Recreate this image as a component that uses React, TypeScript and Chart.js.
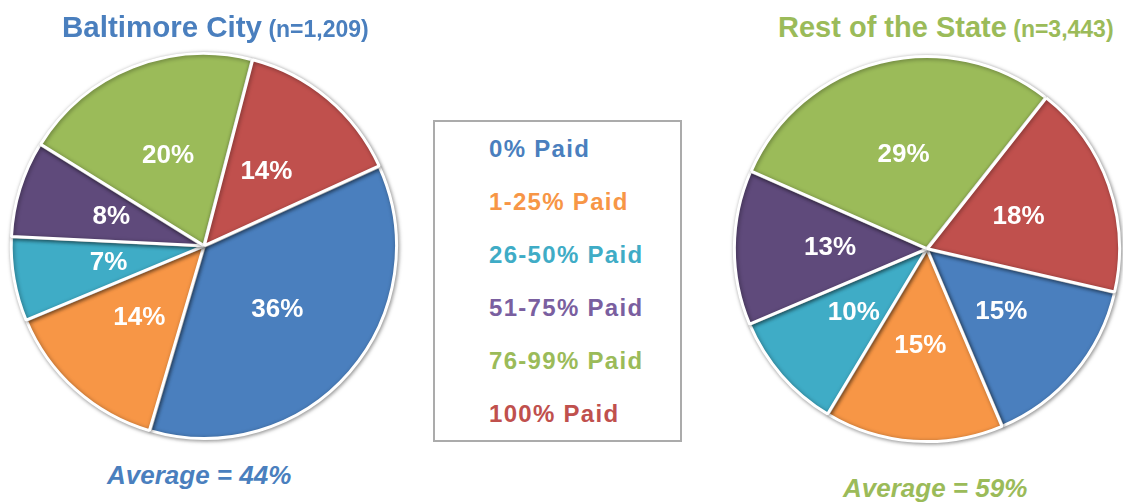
import React, { useEffect, useRef } from "react";
import { Chart, registerables } from "chart.js";

Chart.register(...registerables);

const categories = ["0% Paid", "1-25% Paid", "26-50% Paid", "51-75% Paid", "76-99% Paid", "100% Paid"];
const baltimoreValues = [36, 14, 7, 8, 20, 14];
const restValues = [15, 15, 10, 13, 29, 18];
const sliceColors = ["#4A7FBE", "#F79646", "#3FACC6", "#5F4A7B", "#9BBB59", "#C0504D"];
const legendColors = ["#4A7FBE", "#F79646", "#3FACC6", "#7A5FA0", "#9BBB59", "#C0504D"];

const FONT = "'Liberation Sans', Arial, sans-serif";

const piePlugin = {
  id: "pieDecor",
  beforeDatasetsDraw(chart: any) {
    const ctx = chart.ctx;
    ctx.save();
    ctx.shadowColor = "rgba(0,0,0,0.4)";
    ctx.shadowBlur = 4;
    ctx.shadowOffsetX = 1;
    ctx.shadowOffsetY = 1;
  },
  afterDatasetsDraw(chart: any) {
    const ctx = chart.ctx;
    ctx.restore();
    const meta = chart.getDatasetMeta(0);
    const data = chart.data.datasets[0].data;
    ctx.save();
    ctx.fillStyle = "#FFFFFF";
    ctx.font = `bold 26px ${FONT}`;
    ctx.textAlign = "center";
    ctx.textBaseline = "middle";
    meta.data.forEach((arc: any, i: number) => {
      const p = arc.tooltipPosition();
      ctx.fillText(`${data[i]}%`, p.x, p.y);
    });
    ctx.restore();
  },
};

function Pie({ values, rotation, left, top }: { values: number[]; rotation: number; left: number; top: number }) {
  const ref = useRef<HTMLCanvasElement | null>(null);
  useEffect(() => {
    if (!ref.current) return;
    const chart = new Chart(ref.current, {
      type: "pie",
      data: {
        labels: categories,
        datasets: [
          {
            data: values,
            backgroundColor: sliceColors,
            borderColor: "#FFFFFF",
            borderWidth: 3,
            offset: 2,
          },
        ],
      },
      options: {
        responsive: false,
        animation: false,
        rotation,
        radius: 192,
        layout: { padding: 0 },
        plugins: { legend: { display: false }, tooltip: { enabled: false } },
      } as any,
      plugins: [piePlugin],
    });
    return () => chart.destroy();
  }, []);
  return (
    <canvas
      ref={ref}
      width={400}
      height={400}
      style={{ position: "absolute", left, top, width: 400, height: 400 }}
    />
  );
}

export default function App() {
  const abs = (x: number, y: number): React.CSSProperties => ({ position: "absolute", left: x, top: y, whiteSpace: "nowrap" });
  return (
    <div style={{ position: "absolute", left: 0, top: 0, width: 1123, height: 502, overflow: "hidden", background: "#fff", fontFamily: FONT }}>
      <Pie values={baltimoreValues} rotation={65.5} left={4} top={46} />
      <Pie values={restValues} rotation={103} left={727} top={49} />

      <div style={{ ...abs(62, 10), fontWeight: "bold", color: "#4A7FBE", lineHeight: "34px" }}>
        <span style={{ fontSize: 29.5 }}>Baltimore City</span>
        <span style={{ fontSize: 23 }}> (n=1,209)</span>
      </div>
      <div style={{ ...abs(778, 10), fontWeight: "bold", color: "#9BBB59", lineHeight: "34px" }}>
        <span style={{ fontSize: 29 }}>Rest of the State</span>
        <span style={{ fontSize: 23 }}> (n=3,443)</span>
      </div>

      <div
        style={{
          position: "absolute",
          left: 433,
          top: 120,
          width: 245,
          height: 318,
          border: "2px solid #ABABAB",
          background: "#fff",
        }}
      />
      {categories.map((c, i) => (
        <div
          key={c}
          style={{
            ...abs(489, 135 + i * 53),
            fontSize: 24,
            fontWeight: "bold",
            letterSpacing: 1.3,
            color: legendColors[i],
            lineHeight: "28px",
          }}
        >
          {c}
        </div>
      ))}

      <div style={{ ...abs(107, 460), fontSize: 26, fontWeight: "bold", fontStyle: "italic", color: "#4A7FBE", lineHeight: "30px" }}>
        Average = 44%
      </div>
      <div style={{ ...abs(843, 473), fontSize: 26, fontWeight: "bold", fontStyle: "italic", color: "#9BBB59", lineHeight: "30px" }}>
        Average = 59%
      </div>
    </div>
  );
}
